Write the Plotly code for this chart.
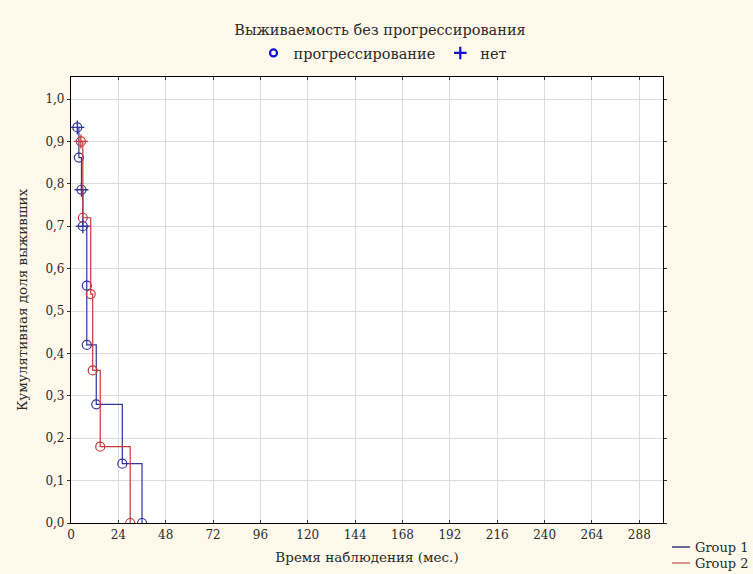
import plotly.graph_objects as go

# Group 1 (blue) step points
g1_t = [3.2, 4, 5.3, 6, 8, 8, 12.8, 26, 36]
g1_s = [0.933, 0.862, 0.786, 0.70, 0.56, 0.42, 0.28, 0.14, 0.0]
g1_cens_t = [3.2, 5.3, 6]
g1_cens_s = [0.933, 0.786, 0.70]

# Group 2 (red) step points
g2_t = [5, 6, 10, 11, 14.8, 30]
g2_s = [0.90, 0.72, 0.54, 0.36, 0.18, 0.0]
g2_cens_t = [5]
g2_cens_s = [0.90]

x_ticks = [0, 24, 48, 72, 96, 120, 144, 168, 192, 216, 240, 264, 288]
y_ticks = [0.0, 0.1, 0.2, 0.3, 0.4, 0.5, 0.6, 0.7, 0.8, 0.9, 1.0]
y_ticklabels = ["0,0", "0,1", "0,2", "0,3", "0,4", "0,5", "0,6", "0,7", "0,8", "0,9", "1,0"]
group_names = ["Group 1", "Group 2"]
group_legend_colors = ["#1a1a6a", "#c06060"]

BLUE = "#34349a"
RED = "#c23a3a"
BG = "#fff9ec"
FONT = "DejaVu Serif"
TXT = "#2a2a2a"

W, H = 753, 574
ML, MR, MT, MB = 71, 90, 77, 51
PW, PH = W - ML - MR, H - MT - MB


def px_x(px):
    return (px - ML) / PW


def px_y(py):
    return (H - MB - py) / PH


fig = go.Figure()

fig.add_trace(go.Scatter(x=g1_t, y=g1_s, mode="lines+markers", line=dict(color=BLUE, width=1.2, shape="hv"),
                         marker=dict(symbol="circle-open", size=9, color=BLUE, line=dict(width=1.2)),
                         showlegend=False))
fig.add_trace(go.Scatter(x=g2_t, y=g2_s, mode="lines+markers", line=dict(color=RED, width=1.2, shape="hv"),
                         marker=dict(symbol="circle-open", size=9, color=RED, line=dict(width=1.2)),
                         showlegend=False))
fig.add_trace(go.Scatter(x=g1_cens_t, y=g1_cens_s, mode="markers",
                         marker=dict(symbol="cross-thin-open", size=10, color=BLUE, line=dict(width=1.3, color=BLUE)),
                         showlegend=False))
fig.add_trace(go.Scatter(x=g2_cens_t, y=g2_cens_s, mode="markers",
                         marker=dict(symbol="cross-thin-open", size=10, color=RED, line=dict(width=1.3, color=RED)),
                         showlegend=False))

# top marker legend
fig.add_trace(go.Scatter(x=[None], y=[None], mode="markers", name="прогрессирование",
                         marker=dict(symbol="circle-open", size=7, color="#1010d0", line=dict(width=2.2)),
                         legend="legend2"))
fig.add_trace(go.Scatter(x=[None], y=[None], mode="markers", name="нет",
                         marker=dict(symbol="cross-thin-open", size=9, color="#1010d0", line=dict(width=2.2, color="#1010d0")),
                         legend="legend2"))

# bottom-right group legend drawn as lines + text
legend_rows_py = [547, 563]
for name, col, py in zip(group_names, group_legend_colors, legend_rows_py):
    fig.add_shape(type="line", xref="paper", yref="paper", x0=px_x(672), x1=px_x(690),
                  y0=px_y(py), y1=px_y(py), line=dict(color=col, width=1.3))
    fig.add_annotation(xref="paper", yref="paper", x=px_x(693), y=px_y(py), text=name,
                       showarrow=False, xanchor="left", yanchor="middle",
                       font=dict(family=FONT, size=13, color=TXT))

fig.update_layout(
    width=W, height=H,
    paper_bgcolor=BG, plot_bgcolor="white",
    margin=dict(l=ML, r=MR, t=MT, b=MB, autoexpand=False),
    font=dict(family=FONT, size=13, color=TXT),
    showlegend=True,
    title=dict(text="Выживаемость без прогрессирования", x=380 / W, xanchor="center",
               y=1 - 30 / H, yanchor="middle", font=dict(family=FONT, size=14.5, color=TXT)),
    xaxis=dict(range=[0, 300], tickvals=x_ticks, ticktext=[str(v) for v in x_ticks],
               showgrid=True, gridcolor="#dcdcdc", gridwidth=1, zeroline=False,
               showline=True, linecolor="black", linewidth=1.2, mirror="ticks",
               ticks="inside", ticklen=3, tickcolor="#333", automargin=False,
               title=dict(text="Время наблюдения (мес.)", standoff=12, font=dict(size=13.5)),
               tickfont=dict(size=12)),
    yaxis=dict(range=[0, 1.052], tickvals=y_ticks, ticktext=y_ticklabels,
               showgrid=True, gridcolor="#dcdcdc", gridwidth=1, zeroline=False,
               showline=True, linecolor="black", linewidth=1.2, mirror="ticks",
               ticks="outside", ticklen=3, tickcolor="#333", automargin=False,
               title=dict(text="Кумулятивная доля выживших", standoff=14, font=dict(size=13.5)),
               tickfont=dict(size=12)),
    legend2=dict(orientation="h", x=px_x(383), xanchor="center", y=px_y(53), yanchor="middle",
                 bgcolor="rgba(0,0,0,0)", font=dict(size=14.5), itemwidth=30),
)

fig.write_html("out.html", config={"displayModeBar": False},
               post_script="document.body.style.margin='0px';")
